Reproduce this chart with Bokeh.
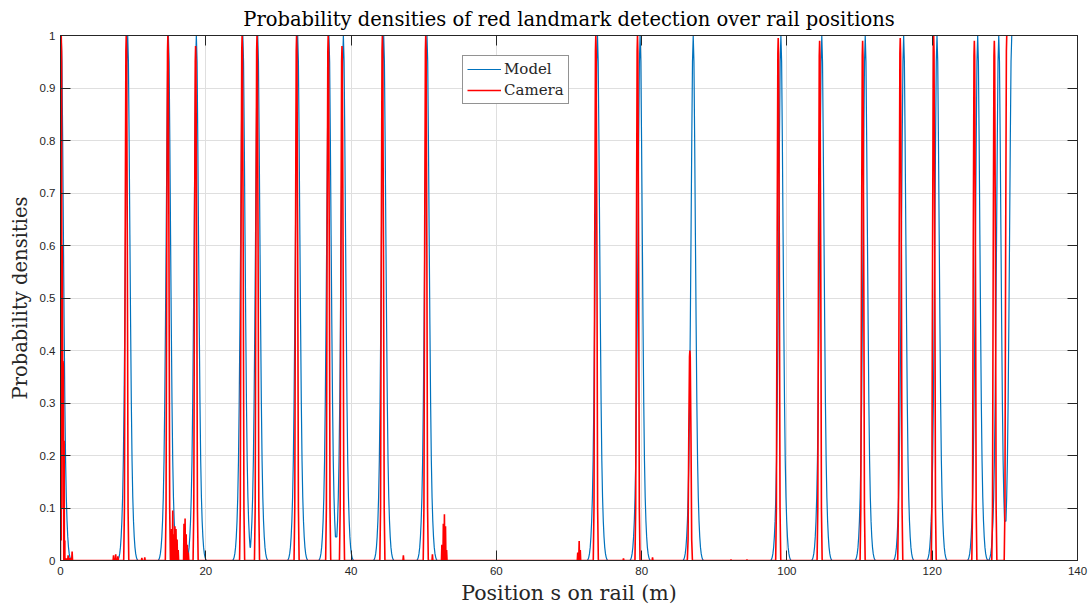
from bokeh.plotting import figure
from bokeh.models import LinearAxis, Range1d, Legend, LegendItem, FixedTicker
from bokeh.embed import file_html
from bokeh.resources import INLINE

# ---------------- data ----------------
title_text = "Probability densities of red landmark detection over rail positions"
x_label = "Position s on rail (m)"
y_label = "Probability densities"

x_ticks = [0, 20, 40, 60, 80, 100, 120, 140]
x_tick_labels = ["0", "20", "40", "60", "80", "100", "120", "140"]
y_ticks = [0, 0.1, 0.2, 0.3, 0.4, 0.5, 0.6, 0.7, 0.8, 0.9, 1.0]
y_tick_labels = ["0", "0.1", "0.2", "0.3", "0.4", "0.5", "0.6", "0.7", "0.8", "0.9", "1"]

# Model: landmark peak centres (m); the last peak is cut at its top
model_peak_x = [0.1, 9.25, 14.85, 18.7, 25.1, 27.15, 32.65, 36.95, 38.94, 44.49,
                50.45, 73.92, 79.79, 87.1, 99.17, 104.8, 110.78, 116.07, 120.66,
                126.26, 129.16, 130.95]
model_profile_dx = [-1.4, -1.3, -1.2, -1.1, -1.0, -0.9, -0.8, -0.7, -0.6, -0.5, -0.4,
                    -0.3, -0.2, -0.1, 0.0, 0.1, 0.2, 0.3, 0.4, 0.5, 0.6, 0.7, 0.8,
                    0.9, 1.0, 1.1, 1.2, 1.3, 1.4]
model_profile_y = [0.0, 0.002, 0.006, 0.013, 0.025, 0.045, 0.075, 0.12, 0.19, 0.30,
                   0.45, 0.62, 0.80, 0.95, 1.0, 0.95, 0.80, 0.62, 0.45, 0.30, 0.19,
                   0.12, 0.075, 0.045, 0.025, 0.013, 0.006, 0.002, 0.0]

# Camera: detection peaks (centre in m, height)
camera_peak_x = [0.1, 0.35, 9.05, 14.78, 18.6, 25.0, 27.05, 32.5, 36.85, 38.75,
                 44.31, 50.28, 73.69, 79.43, 86.64, 98.8, 104.5, 110.42, 115.6,
                 120.2, 125.8, 128.55, 130.26]
camera_peak_h = [1.0, 0.38, 1.0, 1.0, 0.98, 1.0, 1.0, 1.0, 1.0, 0.98,
                 1.0, 1.0, 1.0, 1.0, 0.40, 0.995, 0.99, 0.99, 0.995,
                 1.0, 0.99, 0.99, 1.0]
camera_profile_dx = [-0.35, -0.25, -0.15, -0.05, 0.0, 0.05, 0.15, 0.25, 0.35]
camera_profile_y = [0.0, 0.1, 0.6, 0.97, 1.0, 0.97, 0.6, 0.1, 0.0]

# Camera: small false detections (position in m, height)
camera_noise_x = [0.6, 0.8, 1.05, 1.3, 1.6, 7.3, 7.6, 7.9, 11.2, 11.6,
                  15.2, 15.3, 15.45, 15.6, 15.75, 15.9, 16.05, 16.2,
                  17.0, 17.15, 17.3, 17.45, 17.6, 47.2, 51.2,
                  52.5, 52.7, 52.85, 53.0, 53.15, 71.2, 71.4, 71.55,
                  77.5, 81.5, 92.3, 94.5]
camera_noise_y = [0.006, 0.004, 0.01, 0.005, 0.017, 0.01, 0.012, 0.008, 0.005, 0.006,
                  0.03, 0.06, 0.095, 0.05, 0.065, 0.06, 0.04, 0.02,
                  0.07, 0.08, 0.05, 0.03, 0.015, 0.01, 0.012,
                  0.03, 0.07, 0.088, 0.065, 0.02, 0.015, 0.037, 0.02,
                  0.004, 0.006, 0.002, 0.002]

# ---------------- build series ----------------
def build_model():
    xs, ys = [], []
    n = len(model_peak_x)
    for i, c in enumerate(model_peak_x):
        lo = -1e9 if i == 0 else (model_peak_x[i - 1] + c) / 2
        hi = 1e9 if i == n - 1 else (model_peak_x[i + 1] + c) / 2
        for dx, v in zip(model_profile_dx, model_profile_y):
            if i == n - 1 and dx > 0:
                break
            x = c + dx
            if lo <= x <= hi:
                xs.append(x)
                ys.append(v)
    return xs, ys


def build_camera():
    pts = []
    n = len(camera_peak_x)
    for i, (c, h) in enumerate(zip(camera_peak_x, camera_peak_h)):
        for dx, v in zip(camera_profile_dx, camera_profile_y):
            if i == n - 1 and dx > 0:
                break
            pts.append((c + dx, h * v))
    for x, h in zip(camera_noise_x, camera_noise_y):
        pts += [(x - 0.06, 0.0), (x, h), (x + 0.06, 0.0)]
    pts.sort(key=lambda t: t[0])
    return [t[0] for t in pts], [t[1] for t in pts]


mx, my = build_model()
cx, cy = build_camera()

# ---------------- figure ----------------
AX = "#262626"
p = figure(width=1092, height=610, output_backend="svg", toolbar_location=None,
           x_range=Range1d(0, 140), y_range=Range1d(0, 1),
           min_border_left=60, min_border_right=15, min_border_top=34,
           min_border_bottom=50)
p.background_fill_color = "white"
p.border_fill_color = "white"
p.outline_line_color = AX
p.outline_line_width = 1

p.title.text = title_text
p.title.align = "center"
p.title.text_font = "DejaVu Serif"
p.title.text_font_style = "normal"
p.title.text_font_size = "19.5px"
p.title.text_color = "black"

r_model = p.line(mx, my, line_color="#0072BD", line_width=1.2)
r_cam = p.line(cx, cy, line_color="#FF0000", line_width=1.6)

p.xaxis.ticker = FixedTicker(ticks=x_ticks)
p.xaxis.major_label_overrides = {t: l for t, l in zip(x_ticks, x_tick_labels)}
p.yaxis.ticker = FixedTicker(ticks=y_ticks)
p.yaxis.major_label_overrides = {t: l for t, l in zip(y_ticks, y_tick_labels)}

for ax in (p.xaxis[0], p.yaxis[0]):
    ax.major_tick_in = 10
    ax.major_tick_out = 0
    ax.minor_tick_in = 0
    ax.minor_tick_out = 0
    ax.axis_line_color = AX
    ax.major_tick_line_color = AX
    ax.major_label_text_font = "Liberation Sans"
    ax.major_label_text_font_size = "11.5px"
    ax.major_label_text_color = AX
    ax.axis_label_text_font = "DejaVu Serif"
    ax.axis_label_text_font_style = "normal"
    ax.axis_label_text_color = AX

p.xaxis.axis_label = x_label
p.yaxis.axis_label = y_label
p.xaxis.axis_label_text_font_size = "20.5px"
p.yaxis.axis_label_text_font_size = "19.5px"
p.xaxis.major_label_standoff = 6
p.yaxis.major_label_standoff = 5
p.xaxis.axis_label_standoff = 3
p.yaxis.axis_label_standoff = 5

top_axis = LinearAxis(ticker=FixedTicker(ticks=x_ticks), major_label_text_font_size="1px",
                      major_label_text_color=None,
                      major_tick_in=10, major_tick_out=0, minor_tick_in=0, minor_tick_out=0,
                      axis_line_color=AX, major_tick_line_color=AX, major_label_standoff=0)
right_axis = LinearAxis(ticker=FixedTicker(ticks=y_ticks), major_label_text_font_size="1px",
                        major_label_text_color=None,
                        major_tick_in=10, major_tick_out=0, minor_tick_in=0, minor_tick_out=0,
                        axis_line_color=AX, major_tick_line_color=AX, major_label_standoff=0)
p.add_layout(top_axis, "above")
p.add_layout(right_axis, "right")

for g in (p.xgrid[0], p.ygrid[0]):
    g.grid_line_color = "#dfdfdf"
    g.grid_line_width = 1
p.xgrid.ticker = FixedTicker(ticks=x_ticks)
p.ygrid.ticker = FixedTicker(ticks=y_ticks)

legend = Legend(items=[LegendItem(label="Model", renderers=[r_model]),
                       LegendItem(label="Camera", renderers=[r_cam])],
                location=(402, 456))
legend.label_text_font = "DejaVu Serif"
legend.label_text_font_size = "15px"
legend.label_text_color = "#262626"
legend.glyph_width = 34
legend.glyph_height = 18
legend.label_height = 18
legend.label_standoff = 3
legend.spacing = 3
legend.padding = 4
legend.margin = 0
legend.border_line_color = AX
legend.border_line_width = 1
legend.background_fill_color = "white"
legend.background_fill_alpha = 1
p.add_layout(legend)

open("out.html", "w").write(file_html(p, INLINE))
